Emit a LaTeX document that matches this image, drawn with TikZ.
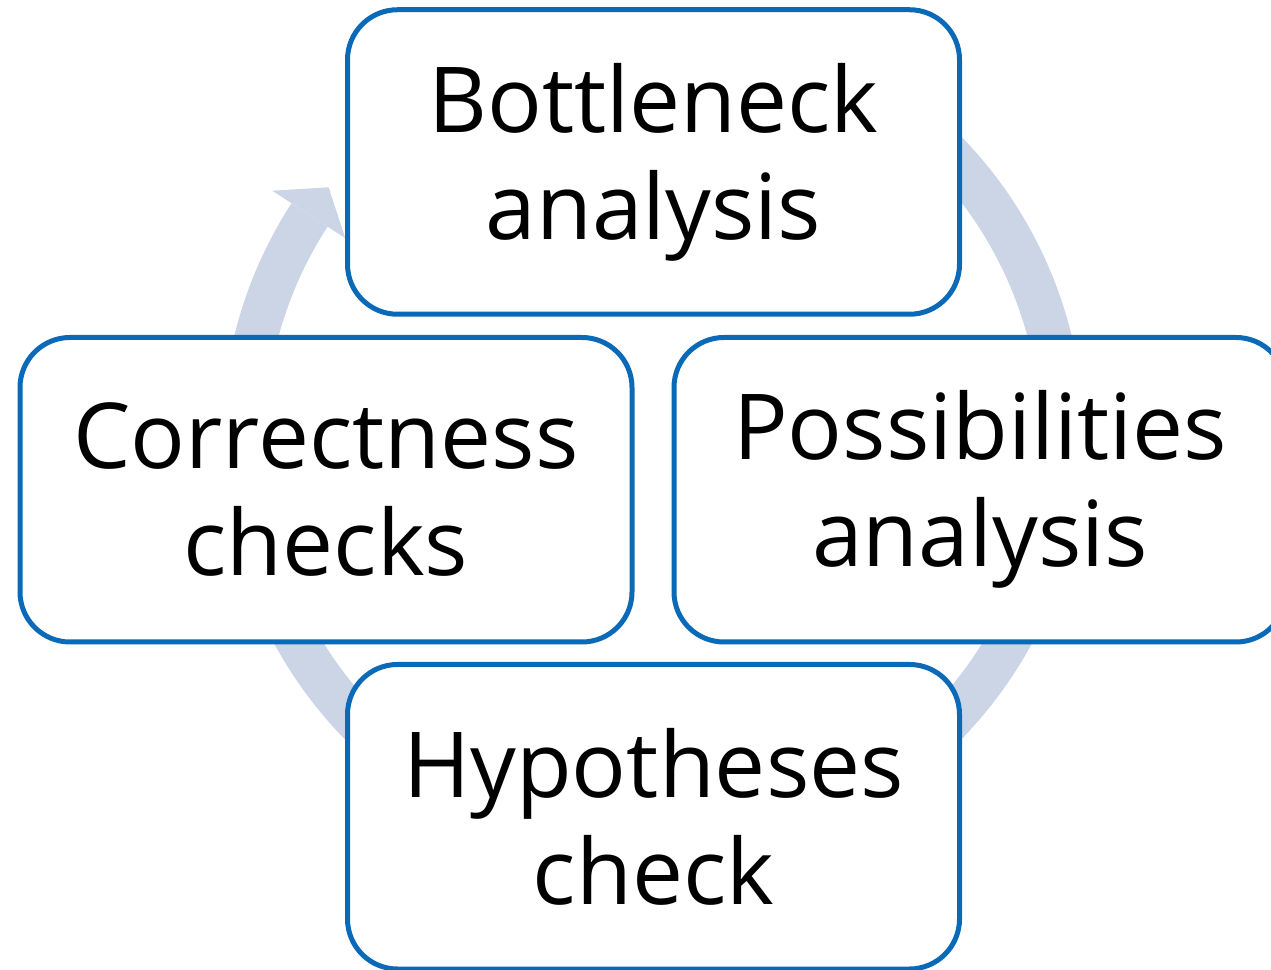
\documentclass[tikz,border=0pt]{standalone}
\usepackage{fontspec}
\newfontfamily\boxfont{Open Sans}
\definecolor{boxblue}{RGB}{11,106,184}
\definecolor{ringgrey}{RGB}{203,213,230}
\begin{document}
\begin{tikzpicture}[x=1pt,y=1pt,
  stage/.style={draw=boxblue, line width=5pt, fill=white, rounded corners=50pt,
    minimum width=612pt, minimum height=304.5pt, inner sep=0pt, align=center,
    font=\boxfont\fontsize{91}{107}\selectfont},
  ring/.style={draw=ringgrey, line width=43pt},
  ringhead/.style={fill=ringgrey}]
\useasboundingbox (0,0) rectangle (1271,969);
\clip (0,0) rectangle (1271,969);

% cycle ring behind the stages, clockwise, starting under the top stage
\coordinate (c) at (653,531);
\draw[ring] ([shift={(60:409.5)}]c) arc[start angle=60, end angle=-213, radius=409.5];
\fill[ringhead] ([shift={(147:454)}]c) -- ([shift={(142.3:410)}]c) -- ([shift={(147:367)}]c) -- cycle;

% the four stages
\node[stage] (bottleneck) at (653.5,807) {Bottleneck\\analysis};
\node[stage] (correct) at (326,479.25) {Correctness\\checks};
\node[stage] (possible) at (980,479.25) {Possibilities\\analysis};
\node[stage] (hypo) at (653.5,152.25) {Hypotheses\\check};
\end{tikzpicture}
\end{document}
